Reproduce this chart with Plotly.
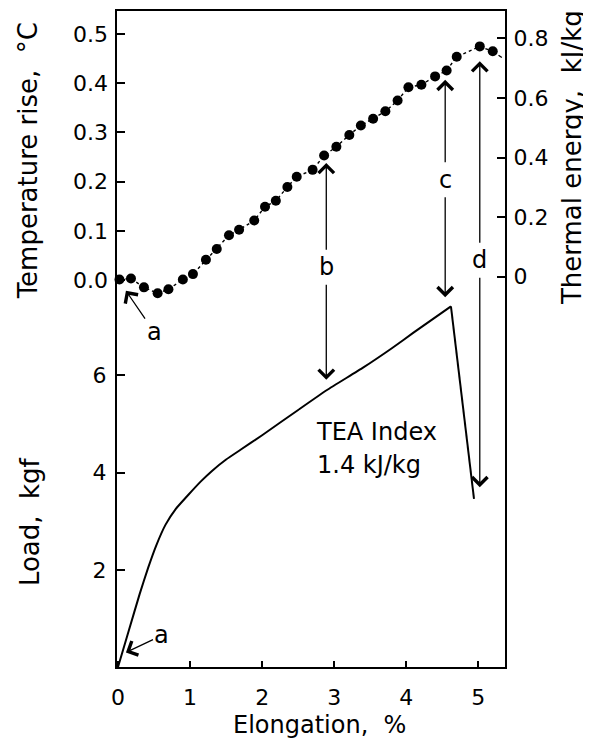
import plotly.graph_objects as go

# ---------------- data ----------------
# Temperature rise (dots) vs elongation
ELONG_T = [0.02, 0.18, 0.36, 0.55, 0.70, 0.90, 1.04, 1.22, 1.37, 1.54, 1.68,
           1.89, 2.04, 2.19, 2.35, 2.48, 2.70, 2.86, 3.03, 3.21, 3.37, 3.54,
           3.71, 3.88, 4.03, 4.21, 4.40, 4.56, 4.70, 5.02, 5.20]
TEMP_RISE = [0.001, 0.003, -0.015, -0.027, -0.019, 0.001, 0.012, 0.041, 0.063,
             0.091, 0.102, 0.121, 0.149, 0.161, 0.189, 0.210, 0.224, 0.253,
             0.271, 0.295, 0.314, 0.328, 0.343, 0.365, 0.392, 0.397, 0.414,
             0.426, 0.454, 0.475, 0.465]
# dashed continuation after the last dot
TAIL_ELONG = [5.20, 5.36]
TAIL_TEMP = [0.465, 0.449]

# Load-elongation curve (rising part, then the break)
ELONG_LOAD = [0.0, 0.15, 0.30, 0.42, 0.53, 0.66, 0.80, 0.98, 1.15, 1.30, 1.50,
              1.70, 2.00, 2.50, 2.90, 3.40, 3.80, 4.10, 4.62, 4.94]
LOAD = [0.0, 0.75, 1.50, 2.05, 2.50, 2.93, 3.25, 3.55, 3.82, 4.03, 4.27,
        4.47, 4.77, 5.29, 5.70, 6.16, 6.56, 6.88, 7.42, 3.46]

# tick labels
X_TICKS = [0, 1, 2, 3, 4, 5]
X_TICKTEXT = ["0", "1", "2", "3", "4", "5"]
LOAD_TICKS = [2, 4, 6]
LOAD_TICKTEXT = ["2", "4", "6"]
TEMP_TICKS = [0.0, 0.1, 0.2, 0.3, 0.4, 0.5]
TEMP_TICKTEXT = ["0.0", "0.1", "0.2", "0.3", "0.4", "0.5"]
THERM_TICKS = [0.0, 0.2, 0.4, 0.6, 0.8]
THERM_TICKTEXT = ["0", "0.2", "0.4", "0.6", "0.8"]

# marked points (b, c, d): x, label height (temp), top arrow tip (temp), bottom tip (load)
MARKS = [("b", 2.89, 0.026, 0.238, 5.91),
         ("c", 4.54, 0.204, 0.407, 7.61),
         ("d", 5.02, 0.040, 0.445, 3.70)]

# ---------------- axes ranges ----------------
X_RANGE = [-0.014, 5.37]
LOAD_RANGE = [0.0, 13.5]
TEMP_RANGE = [-0.787, 0.547]
THERM_RANGE = [-1.311, 0.892]


def t2l(t):
    """temperature-axis value -> load-axis value at the same height"""
    f = (t - TEMP_RANGE[0]) / (TEMP_RANGE[1] - TEMP_RANGE[0])
    return LOAD_RANGE[0] + f * (LOAD_RANGE[1] - LOAD_RANGE[0])


FONT = "DejaVu Sans"
BLACK = "black"

fig = go.Figure()
fig.add_trace(go.Scatter(x=ELONG_LOAD[:-1], y=LOAD[:-1], mode="lines", yaxis="y",
                         line=dict(color=BLACK, width=2, shape="spline", smoothing=0.4),
                         cliponaxis=False, hoverinfo="skip"))
fig.add_trace(go.Scatter(x=ELONG_LOAD[-2:], y=LOAD[-2:], mode="lines", yaxis="y",
                         line=dict(color=BLACK, width=2), hoverinfo="skip"))
fig.add_trace(go.Scatter(x=ELONG_T, y=TEMP_RISE, mode="lines+markers", yaxis="y2",
                         line=dict(color=BLACK, width=1.4, dash="3px,3px"),
                         marker=dict(size=10, color=BLACK), cliponaxis=False))
fig.add_trace(go.Scatter(x=TAIL_ELONG, y=TAIL_TEMP, mode="lines", yaxis="y2",
                         line=dict(color=BLACK, width=1.4, dash="4px,3px")))
# invisible trace so that the right-hand (thermal energy) axis is drawn
fig.add_trace(go.Scatter(x=[X_RANGE[0]] * len(THERM_TICKS), y=THERM_TICKS,
                         mode="markers", yaxis="y3", marker=dict(opacity=0),
                         hoverinfo="skip"))

tick_common = dict(ticks="inside", tickcolor=BLACK, tickwidth=1.5,
                   showgrid=False, zeroline=False,
                   tickfont=dict(family=FONT, size=22, color=BLACK))

# the page body has an 8px margin: figure is shrunk by 8px to fit the window
fig.update_layout(
    width=583, height=737,
    margin=dict(l=109, r=86, t=3, b=78, autoexpand=False),
    paper_bgcolor="white", plot_bgcolor="white",
    showlegend=False,
    font=dict(family=FONT, color=BLACK),
    xaxis=dict(range=X_RANGE, tickvals=X_TICKS, ticktext=X_TICKTEXT, ticklen=6,
               showline=True, linewidth=2, linecolor=BLACK, mirror=True,
               ticklabelstandoff=10, **tick_common),
    yaxis=dict(range=LOAD_RANGE, tickvals=LOAD_TICKS, ticktext=LOAD_TICKTEXT,
               ticklen=8, showline=True, linewidth=2, linecolor=BLACK,
               ticklabelstandoff=4, **tick_common),
    yaxis2=dict(range=TEMP_RANGE, tickvals=TEMP_TICKS, ticktext=TEMP_TICKTEXT,
                overlaying="y", side="left", anchor="x", ticklen=8,
                showline=False, ticklabelstandoff=8, **tick_common),
    yaxis3=dict(range=THERM_RANGE, tickvals=THERM_TICKS, ticktext=THERM_TICKTEXT,
                overlaying="y", side="right", anchor="x", ticklen=8,
                showline=True, linewidth=2, linecolor=BLACK,
                ticklabelstandoff=2, **tick_common),
)

ann = []
TITLE_FONT = dict(family=FONT, size=26, color=BLACK)
XTITLE_FONT = dict(family=FONT, size=24, color=BLACK)
ann.append(dict(text="Temperature rise,  °C", xref="paper", yref="paper",
                x=-0.229, y=0.771, textangle=-90, showarrow=False,
                xanchor="center", yanchor="middle", font=TITLE_FONT))
ann.append(dict(text="Load,  kgf", xref="paper", yref="paper",
                x=-0.224, y=0.221, textangle=-90, showarrow=False,
                xanchor="center", yanchor="middle", font=TITLE_FONT))
ann.append(dict(text="Thermal energy,  kJ/kg", xref="paper", yref="paper",
                x=1.173, y=0.776, textangle=-90, showarrow=False,
                xanchor="center", yanchor="middle", font=TITLE_FONT))
ann.append(dict(text="Elongation,  %", xref="paper", yref="paper",
                x=0.521, y=-0.088, showarrow=False,
                xanchor="center", yanchor="middle", font=XTITLE_FONT))
ann.append(dict(text="TEA Index", xref="x", yref="y", x=3.59, y=4.83,
                showarrow=False, font=XTITLE_FONT))
ann.append(dict(text="1.4 kJ/kg", xref="x", yref="y", x=3.48, y=4.15,
                showarrow=False, font=XTITLE_FONT))

LBL_FONT = dict(family=FONT, size=24, color=BLACK)
ARROW = dict(showarrow=True, arrowhead=4, arrowsize=2.3, arrowwidth=1.3,
             arrowcolor=BLACK)

# a (upper, on the temperature curve)
ann.append(dict(text="a", xref="x", yref="y2", x=0.11, y=-0.022,
                axref="x", ayref="y2", ax=0.50, ay=-0.105, font=LBL_FONT, **ARROW))
# a (lower, on the load curve)
ann.append(dict(text="a", xref="x", yref="y", x=0.11, y=0.30,
                axref="x", ayref="y", ax=0.61, ay=0.65, font=LBL_FONT, **ARROW))

for name, X, LT, TT, BL in MARKS:
    ann.append(dict(text=name, xref="x", yref="y2", x=X, y=LT, showarrow=False,
                    font=LBL_FONT))
    ann.append(dict(text="", xref="x", yref="y2", x=X, y=TT,
                    axref="x", ayref="y2", ax=X, ay=LT, startstandoff=16, **ARROW))
    ann.append(dict(text="", xref="x", yref="y", x=X, y=BL,
                    axref="x", ayref="y", ax=X, ay=t2l(LT), startstandoff=16, **ARROW))

fig.update_layout(annotations=ann)
fig.write_html("out.html")
